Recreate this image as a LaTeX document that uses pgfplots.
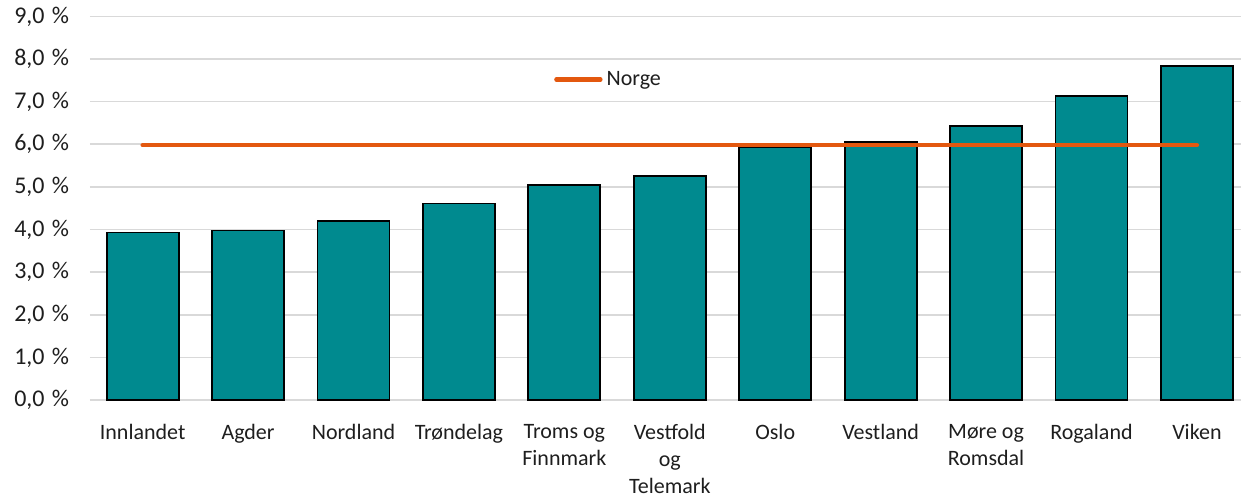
\documentclass[border=0pt]{standalone}
\usepackage{fontspec}
\setmainfont{Carlito}
\usepackage{pgfplots}
\pgfplotsset{compat=1.18}
\definecolor{barteal}{RGB}{0,138,143}
\definecolor{lineorange}{RGB}{227,88,15}
\definecolor{gridgray}{RGB}{217,217,217}
\definecolor{txt}{RGB}{30,30,30}
\pgfplotsset{normlegend/.style={legend image code/.code={\draw[##1] (0pt,0pt) -- (22pt,0pt);}}}
\begin{document}
\begin{tikzpicture}
\begin{axis}[
  scale only axis,
  width=576pt, height=192pt,
  xmin=-0.5, xmax=10.42,
  ymin=0, ymax=9,
  ytick={0,1,...,9},
  xtick={0,1,...,10},
  xticklabels={Innlandet, Agder, Nordland, Trøndelag, {Troms og\\Finnmark}, {Vestfold\\og\\Telemark}, Oslo, Vestland, {Møre og\\Romsdal}, Rogaland, Viken},
  xticklabel style={align=center, font=\fontsize{11}{13.6}\selectfont, text=txt, yshift=-8.5pt},
  yticklabel style={font=\fontsize{12}{14}\selectfont, text=txt, xshift=-7pt},
  yticklabel={\pgfmathprintnumber[fixed,fixed zerofill,precision=1,use comma,assume math mode=true]{\tick}\hspace{0.3em}\%},
  major tick length=0pt,
  axis line style={draw=none},
  ymajorgrids,
  grid style={gridgray, line width=0.8pt},
  legend style={at={(axis cs:3.9,7.52)}, anchor=west, draw=none, fill=none, font=\fontsize{11}{14}\selectfont, text=txt, inner sep=0pt},
  legend cell align=left,
  clip=false,
]
\addplot[ybar, bar width=36pt, fill=barteal, draw=black, line width=0.9pt, forget plot] coordinates {
  (0,3.93) (1,3.98) (2,4.20) (3,4.61) (4,5.05) (5,5.26) (6,5.93) (7,6.05) (8,6.42) (9,7.13) (10,7.83)
};
\addplot[lineorange, line width=2.2pt, line cap=round, normlegend] coordinates {
  (0,5.98) (1,5.98) (2,5.98) (3,5.98) (4,5.98) (5,5.98) (6,5.98) (7,5.98) (8,5.98) (9,5.98) (10,5.98)
};
\addlegendentry{Norge}
\end{axis}
\path (current axis.north) ++(0pt,7pt);
\path (current axis.south west) ++(-45pt,-50.5pt);
\end{tikzpicture}
\end{document}
